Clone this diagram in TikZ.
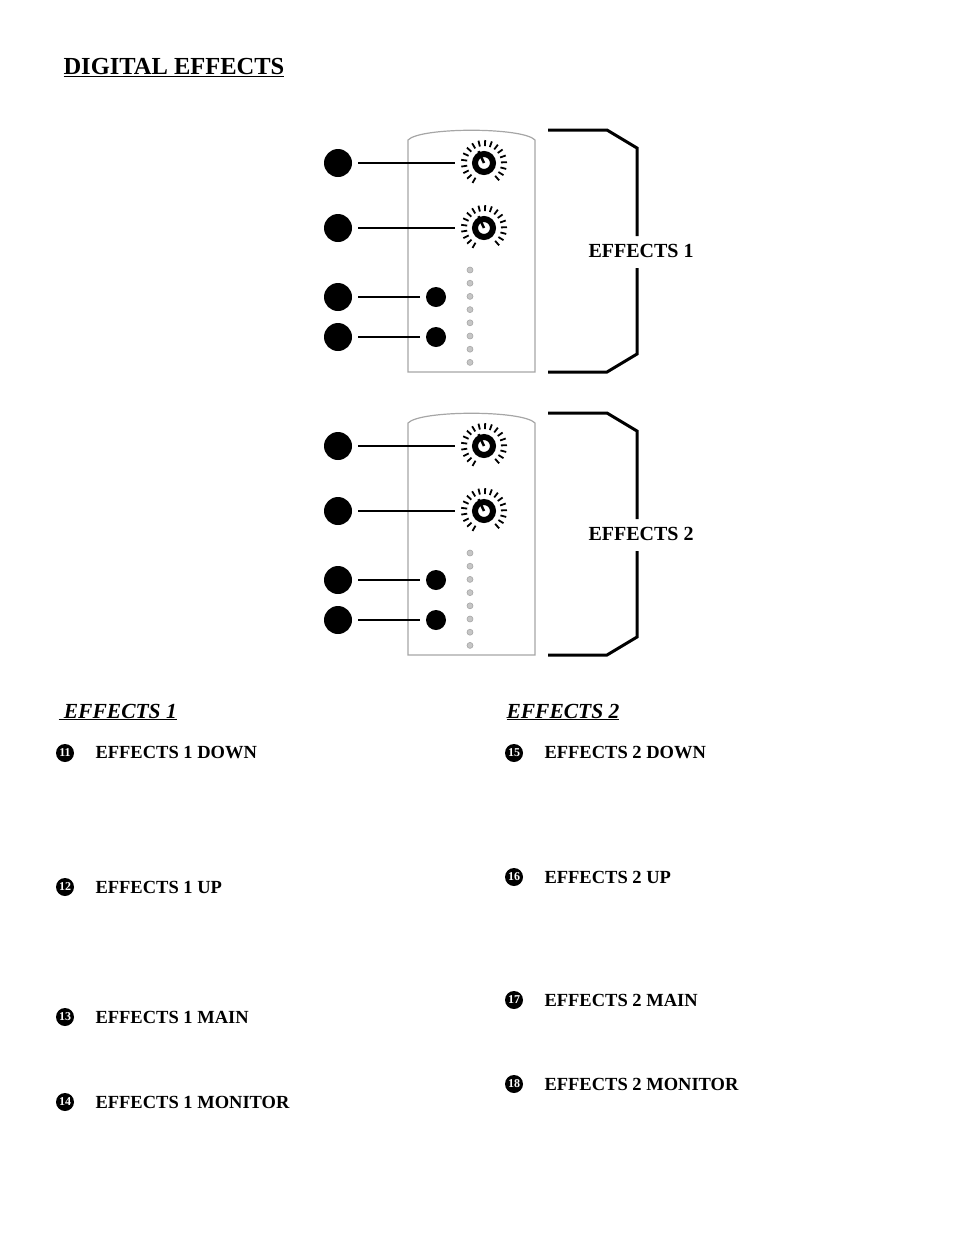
\documentclass[tikz,border=0pt]{standalone}
\usepackage{fontspec}
\setmainfont{Liberation Serif}
\usetikzlibrary{positioning}
\tikzset{
  callout/.style = {circle, fill=black, minimum size=28pt, inner sep=0pt},
  button/.style = {circle, fill=black, minimum size=20pt, inner sep=0pt},
  led/.style = {circle, fill=gray!45, draw=gray!70, line width=0.6pt, minimum size=6pt, inner sep=0pt},
  num/.style = {circle, fill=black, text=white, minimum size=18pt, inner sep=0pt, font=\bfseries\fontsize{12}{12}\selectfont},
  item/.style = {anchor=west, font=\bfseries\fontsize{18.5}{18.5}\selectfont},
  group/.style = {anchor=west, font=\bfseries\itshape\fontsize{21.5}{21.5}\selectfont},
  lead/.style = {line width=1.6pt, shorten <=6pt},
  brace/.style = {line width=3pt},
}
\newcommand{\knob}[2]{%
  \foreach \a in {-60,-43,...,240} \draw[line width=1.8pt] (#1,#2) ++(\a:-17) -- ++(\a:-6);
  \draw[line width=6pt] (#1,#2) circle (9);
  \draw[line width=2.5pt] (#1,#2) -- ++(-115:13);
}
\begin{document}
\begin{tikzpicture}[x=1pt,y=-1pt]
  \useasboundingbox (0,0) rectangle (954,1235);
  \node[anchor=west, font=\bfseries\fontsize{24.5}{24.5}\selectfont] (title) at (60,68) {\underline{DIGITAL EFFECTS}};

  \foreach \dy/\lab in {0/1, 283/2} {
    \begin{scope}[yshift=-\dy]
      % panel
      \draw[gray!70, line width=1.2pt] (408,372) -- (408,140) .. controls (420,127) and (523,127) .. (535,140) -- (535,372) -- cycle;
      \knob{484}{163}
      \knob{484}{228}
      \node[button] (b1) at (436,297) {};
      \node[button] (b2) at (436,337) {};
      \foreach \i in {0,...,7} \node[led] at (470,270+13.2*\i) {};
      % callouts
      \node[callout] (c1) at (338,163) {};
      \node[callout] (c2) at (338,228) {};
      \node[callout] (c3) at (338,297) {};
      \node[callout] (c4) at (338,337) {};
      \coordinate (k1) at (455,163);
      \coordinate (k2) at (455,228);
      \draw[lead] (c1) -- (k1);
      \draw[lead] (c2) -- (k2);
      \draw[lead, shorten >=6pt] (c3) -- (b1);
      \draw[lead, shorten >=6pt] (c4) -- (b2);
      % bracket
      \draw[brace] (548,130) -- (607,130) -- (637,148) -- (637,236);
      \draw[brace] (637,268) -- (637,354) -- (607,372) -- (548,372);
      \node[item, font=\bfseries\fontsize{20}{20}\selectfont] (grp) at (585,251) {EFFECTS \lab};
    \end{scope}
  }

  \node[group] (h1) at (55,712) {\underline{ EFFECTS 1}};
  \node[group] (h2) at (503,712) {\underline{EFFECTS 2}};
  \foreach \n/\x/\y/\t in {11/65/753/EFFECTS 1 DOWN, 12/65/887/EFFECTS 1 UP, 13/65/1017/EFFECTS 1 MAIN, 14/65/1102/EFFECTS 1 MONITOR,
                           15/514/753/EFFECTS 2 DOWN, 16/514/877/EFFECTS 2 UP, 17/514/1000/EFFECTS 2 MAIN, 18/514/1084/EFFECTS 2 MONITOR} {
    \node[num] (n\n) at (\x,\y) {\n};
    \node[item] (t\n) at (\x+27,\y) {\t};
  }
\end{tikzpicture}
\end{document}
